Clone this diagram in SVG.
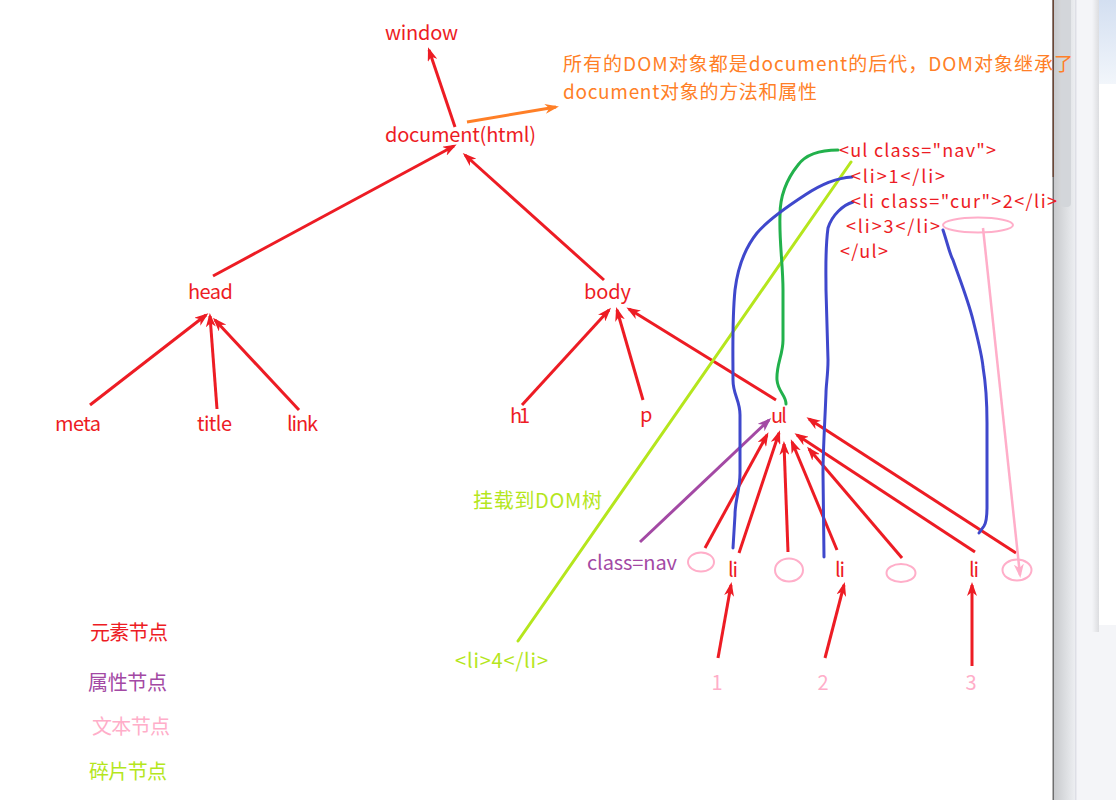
<svg xmlns="http://www.w3.org/2000/svg" width="1116" height="800" viewBox="0 0 1116 800">
<style>
text{font-family:"Noto Sans CJK SC","Open Sans","Liberation Sans",sans-serif;font-size:20px}
.r{fill:#ed1c24}.o{fill:#ff7f27;font-size:19px}.g{fill:#b5e61d}.pu{fill:#a349a4}.pk{fill:#ffaec9}
.code{font-size:18px}
.lr{stroke:#ed1c24;stroke-width:3;fill:none;marker-end:url(#ar)}
.lo{stroke:#ff7f27;stroke-width:3;fill:none;marker-end:url(#ao)}
.lp{stroke:#a349a4;stroke-width:3;fill:none;marker-end:url(#ap)}
.lk{stroke:#ffaec9;stroke-width:2.5;fill:none;marker-end:url(#ak)}
.lb{stroke:#3f48cc;stroke-width:3;fill:none;stroke-linecap:round}
.lg{stroke:#22b14c;stroke-width:3;fill:none;stroke-linecap:round}
.ly{stroke:#b5e61d;stroke-width:3;fill:none;stroke-linecap:round}
.el{fill:none;stroke:#ffaec9;stroke-width:2}
</style>
<defs>
<marker id="ar" markerUnits="userSpaceOnUse" viewBox="0 0 14 10" markerWidth="14" markerHeight="10" refX="11" refY="5" orient="auto"><path d="M0,0 L14,5 L0,10 L4,5 z" fill="#ed1c24"/></marker>
<marker id="ao" markerUnits="userSpaceOnUse" viewBox="0 0 14 10" markerWidth="14" markerHeight="10" refX="11" refY="5" orient="auto"><path d="M0,0 L14,5 L0,10 L4,5 z" fill="#ff7f27"/></marker>
<marker id="ap" markerUnits="userSpaceOnUse" viewBox="0 0 14 10" markerWidth="14" markerHeight="10" refX="11" refY="5" orient="auto"><path d="M0,0 L14,5 L0,10 L4,5 z" fill="#a349a4"/></marker>
<marker id="ak" markerUnits="userSpaceOnUse" viewBox="0 0 14 10" markerWidth="14" markerHeight="10" refX="11" refY="5" orient="auto"><path d="M0,0 L14,5 L0,10 L4,5 z" fill="#ffaec9"/></marker>
<linearGradient id="band" x1="0" y1="0" x2="1" y2="0"><stop offset="0" stop-color="#c8cacd"/><stop offset="1" stop-color="#eceef1"/></linearGradient>
<linearGradient id="sh" x1="0" y1="0" x2="1" y2="0"><stop offset="0" stop-color="#f4f5f8"/><stop offset="1" stop-color="#dcdde0"/></linearGradient>
<linearGradient id="blu" x1="0" y1="0" x2="0" y2="1"><stop offset="0" stop-color="#d3dff1"/><stop offset="1" stop-color="#f2f6fb"/></linearGradient>
</defs>
<rect width="1116" height="800" fill="#ffffff"/>
<g id="side-panel">
<rect x="1053" y="0" width="63" height="800" fill="#f4f5f8"/>
<rect x="1054" y="0" width="21" height="800" fill="url(#band)"/>
<rect x="1061" y="-5" width="10" height="212" rx="4" fill="#d3d6da"/>
<rect x="1075" y="0" width="1.5" height="800" fill="#dedfe6"/>
<rect x="1092" y="0" width="7" height="632" fill="url(#sh)"/>
<rect x="1099" y="0" width="17" height="84" fill="url(#blu)"/>
<rect x="1099" y="84" width="17" height="541" fill="#ffffff"/>
<rect x="1052.5" y="0" width="1.5" height="800" fill="#6e6e6e"/>
<rect x="1052.5" y="0" width="1.5" height="177" fill="#6a4636"/>
</g>
<g id="connectors">
<path class="lr" d="M455,127 L429,50"/>
<path class="lo" d="M467,122 L556,107"/>
<path class="lr" d="M213,276 L454,146"/>
<path class="lr" d="M604,280 L465,155"/>
<path class="lr" d="M90,405 L206,315"/>
<path class="lr" d="M217,409 L210,316"/>
<path class="lr" d="M299,410 L215,320"/>
<path class="lr" d="M522,405 L609,310"/>
<path class="lr" d="M643,400 L617,310"/>
<path class="lr" d="M776,400 L629,309"/>
<path class="lr" d="M705,548 L767,435"/>
<path class="lr" d="M739,553 L779,433"/>
<path class="lr" d="M788,552 L784,444"/>
<path class="lr" d="M837,550 L792,442"/>
<path class="lr" d="M902,558 L809,449"/>
<path class="lr" d="M975,552 L797,435"/>
<path class="lr" d="M1016,553 L809,419"/>
<path class="lr" d="M718,658 L731,585"/>
<path class="lr" d="M825,658 L844,585"/>
<path class="lr" d="M972,666 L972,585"/>
<path class="lp" d="M640,542 L769,420"/>
<path class="ly" d="M851,162 L518,641"/>
<path class="lg" d="M838,150 C820,150 806,154 798,165 C786,180 780,195 780,215 C779,240 783,265 783,290 L783,340 C783,355 776,365 777,380 C778,392 786,395 786,404"/>
<path class="lb" d="M852,177 C835,178 820,185 805,195 C785,208 768,220 757,233 C745,248 738,265 735,290 C732,320 733,350 733,380 C733,395 740,400 740,415 L740,473 C740,490 735,500 735,515 L733,548"/>
<path class="lb" d="M853,202 C843,205 832,215 828,228 C825,250 826,270 826,290 L828,360 C828,375 826,385 826,393 C825,420 823,450 823,473 L824,557"/>
<path class="lb" d="M943,230 C948,245 950,255 953,260 C960,280 968,300 973,320 C978,340 982,355 983,367 C986,385 987,405 987,423 L987,507 C987,518 986,523 984,526 L979,533"/>
<path class="lk" d="M983,228 L1020,575"/>
</g>
<g id="node-window"><text class="r" x="385" y="40" textLength="73">window</text></g>
<g id="node-document"><text class="r" x="385" y="142" textLength="151">document(html)</text></g>
<g id="note-document"><text class="o" x="563" y="71" textLength="510">所有的DOM对象都是document的后代，DOM对象继承了</text><text class="o" x="563" y="99" textLength="254">document对象的方法和属性</text></g>
<g id="node-head"><text class="r" x="188" y="299" textLength="45">head</text></g>
<g id="node-body"><text class="r" x="584" y="299" textLength="47">body</text></g>
<g id="node-meta"><text class="r" x="55" y="431" textLength="46">meta</text></g>
<g id="node-title"><text class="r" x="197" y="431" textLength="35">title</text></g>
<g id="node-link"><text class="r" x="287" y="431" textLength="31">link</text></g>
<g id="node-h1"><text class="r" x="510" y="423" textLength="20">h1</text></g>
<g id="node-p"><text class="r" x="640" y="422" textLength="12">p</text></g>
<g id="node-ul"><text class="r" x="771" y="423" textLength="16">ul</text></g>
<g id="code-block">
<text class="r code" x="839" y="157" textLength="157">&lt;ul class="nav"&gt;</text>
<text class="r code" x="851" y="183" textLength="94">&lt;li&gt;1&lt;/li&gt;</text>
<text class="r code" x="851" y="208" textLength="206">&lt;li class="cur"&gt;2&lt;/li&gt;</text>
<text class="r code" x="846" y="233" textLength="94">&lt;li&gt;3&lt;/li&gt;</text>
<text class="r code" x="840" y="258" textLength="48">&lt;/ul&gt;</text>
<ellipse class="el" cx="978" cy="225" rx="35" ry="7.5"/>
</g>
<g id="node-li1"><text class="r" x="728" y="577" textLength="10">li</text></g>
<g id="node-li2"><text class="r" x="835" y="577" textLength="10">li</text></g>
<g id="node-li3"><text class="r" x="969" y="577" textLength="10">li</text></g>
<g id="node-attr"><text class="pu" x="587" y="570" textLength="90">class=nav</text></g>
<g id="node-text-a"><ellipse class="el" cx="701" cy="562" rx="13" ry="9.5"/></g>
<g id="node-text-b"><ellipse class="el" cx="789" cy="570" rx="14" ry="11.5"/></g>
<g id="node-text-c"><ellipse class="el" cx="901" cy="573" rx="14.5" ry="9"/></g>
<g id="node-text-d"><ellipse class="el" cx="1017" cy="570" rx="14.5" ry="10.5"/></g>
<g id="node-t1"><text class="pk" x="717" y="690" text-anchor="middle">1</text></g>
<g id="node-t2"><text class="pk" x="823" y="690" text-anchor="middle">2</text></g>
<g id="node-t3"><text class="pk" x="971" y="690" text-anchor="middle">3</text></g>
<g id="fragment"><text class="g" x="473" y="508" textLength="129">挂载到DOM树</text><text class="g" x="455" y="668" textLength="93">&lt;li&gt;4&lt;/li&gt;</text></g>
<g id="legend">
<text class="r" x="90" y="640" textLength="78">元素节点</text>
<text class="pu" x="88" y="690" textLength="79">属性节点</text>
<text class="pk" x="92" y="734" textLength="78">文本节点</text>
<text class="g" x="89" y="779" textLength="78">碎片节点</text>
</g>
</svg>
